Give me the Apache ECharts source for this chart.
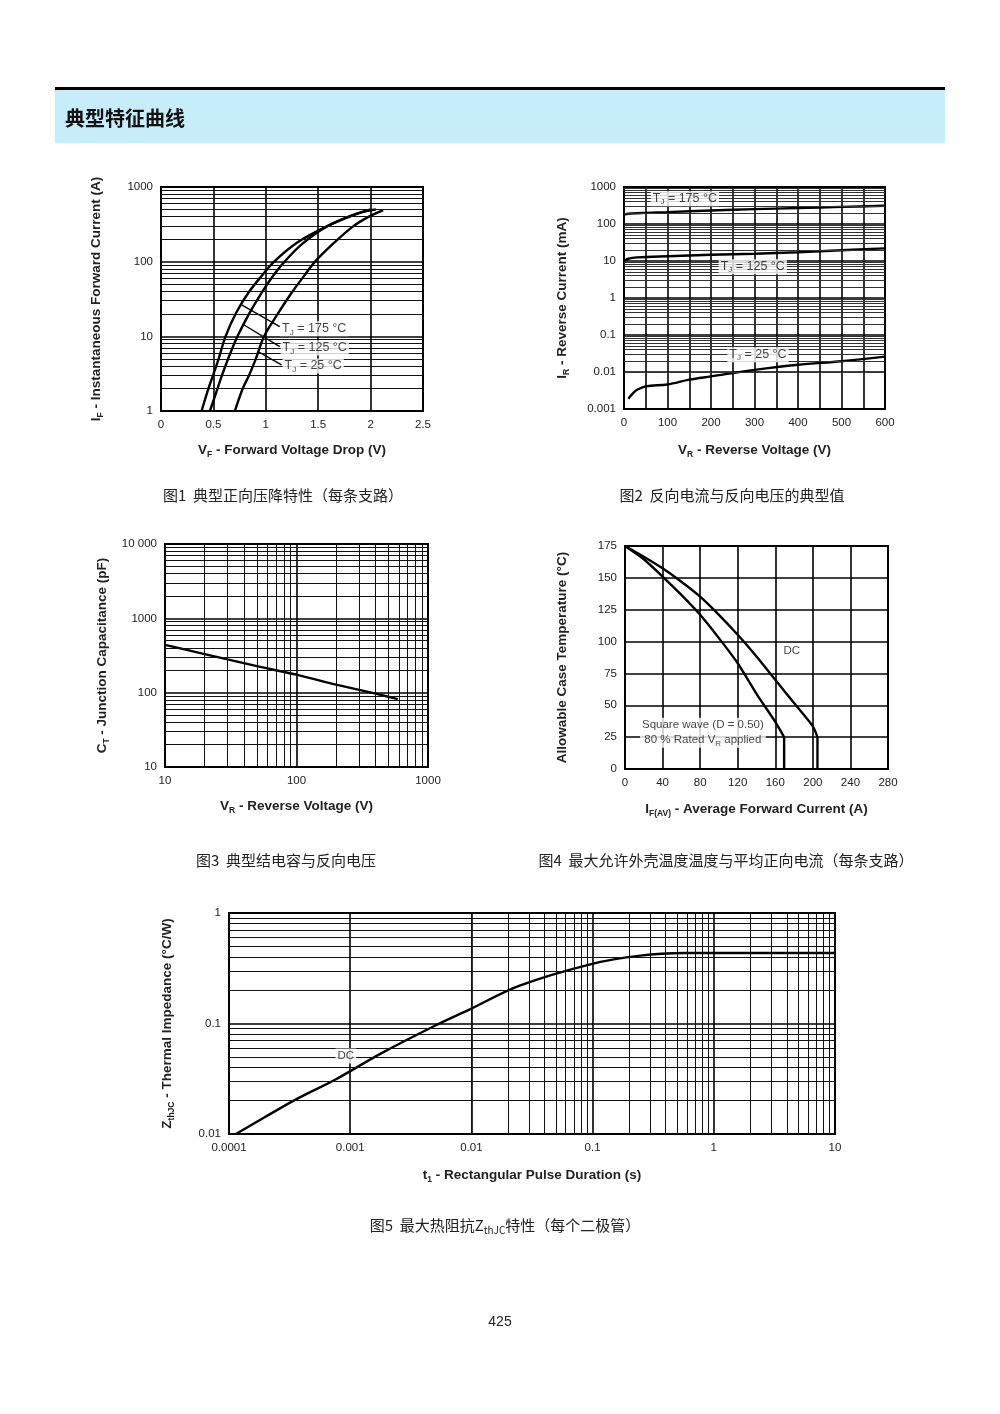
<!DOCTYPE html>
<html><head><meta charset="utf-8">
<script src="https://cdn.jsdelivr.net/npm/echarts@6/dist/echarts.min.js"></script>
<style>html,body{margin:0;padding:0;background:#fff}#c{width:1000px;height:1414px}</style>
</head><body><div id="c"></div>
<script>
const FONT = '"Liberation Sans", Arial, sans-serif';
const CJK = '"Noto Sans CJK SC", sans-serif';
const MINOR = [2, 3, 4, 5, 6, 7, 8, 9];

// ---- Fig 1: forward characteristics [VF (V), IF (A)]
const fig1_T175 = [[0.387,1],[0.45,1.95],[0.5,3.1],[0.55,5],[0.616,10],[0.72,21],[0.832,38],[0.95,62],[1.08,100],[1.3,180],[1.55,282],[1.8,400],[2.0,500]];
const fig1_T125 = [[0.467,1],[0.52,1.66],[0.58,2.95],[0.65,5.4],[0.73,10],[0.84,20],[0.958,38],[1.06,62],[1.165,95],[1.35,174],[1.58,295],[1.88,447],[2.05,500]];
const fig1_T25  = [[0.705,1],[0.78,2],[0.84,3],[0.9,4.8],[0.984,10],[1.1,18.6],[1.245,38],[1.36,63],[1.47,100],[1.65,178],[1.83,295],[1.98,398],[2.12,490]];
const fig1_leader175 = [[0.769,26.4],[1.133,13.5]];
const fig1_leader125 = [[0.793,14.2],[1.133,7.28]];
const fig1_leader25  = [[0.927,6.24],[1.15,4.14]];
const fig1_labels = [['T{s|J} = 175 °C',1.462,12.6],['T{s|J} = 125 °C',1.467,6.99],['T{s|J} = 25 °C',1.452,4.01]];

// ---- Fig 2: reverse current [VR (V), IR (mA)]
const fig2_T175 = [[0,180],[10,190],[50,200],[100,210],[200,232],[300,252],[400,270],[500,290],[600,312]];
const fig2_T125 = [[0,10],[10,11.5],[30,12.5],[100,13.5],[200,14.7],[300,15.7],[400,17.3],[500,19.5],[600,22]];
const fig2_T25  = [[10,0.0019],[20,0.0026],[30,0.0033],[50,0.0041],[100,0.0046],[150,0.0062],[200,0.0076],[300,0.0114],[400,0.0157],[500,0.0195],[600,0.026]];
const fig2_labels = [['T{s|J} = 175 °C',140,483],['T{s|J} = 125 °C',296,7.0],['T{s|J} = 25 °C',308,0.0294]];

// ---- Fig 3: junction capacitance [VR (V), CT (pF)]
const fig3_CT = [[10,440],[20,330],[50,227],[100,175],[200,128],[400,97],[590,82]];

// ---- Fig 4: case temperature [IF(AV) (A), TC (°C)]
const fig4_square = [[0,175],[20,164.6],[40,151],[60,136.6],[80,121],[100,102.7],[120,83],[140,59],[160,37],[169.4,25]];
const fig4_squareDrop = [[169.4,25],[169.4,0]];
const fig4_dc = [[0,175],[20,166.6],[40,157.5],[60,147],[80,135.3],[100,121],[120,105.3],[140,88.3],[160,70],[180,51.7],[200,33.5],[204.9,25]];
const fig4_dcDrop = [[204.9,25],[204.9,0]];
const fig4_labels = [['DC',177.6,92.7,false],['Square wave (D = 0.50)\n80 % Rated V{s|R} applied',82.9,28.4,true]];

// ---- Fig 5: thermal impedance [t1 (s), ZthJC (°C/W)]
const fig5_Z = [[0.000114,0.01],[0.0002,0.0143],[0.00036,0.0207],[0.00077,0.0315],[0.0018,0.0537],[0.005,0.0955],[0.0098,0.135],[0.025,0.22],[0.0975,0.345],[0.248,0.411],[0.58,0.434],[1,0.435],[10,0.435]];
const fig5_labels = [['DC',0.00092,0.0508]];

// ---- helpers
function fmt(v){ return String(Number(Number(v).toPrecision(6))); }
function logLines(min, max, key){
  const out = [];
  for (let e = Math.round(Math.log10(min)); e < Math.round(Math.log10(max)); e++)
    for (const m of MINOR) out.push({[key]: Number((m * Math.pow(10, e)).toPrecision(6))});
  return out;
}
function nameStyle(){
  return {fontFamily: FONT, fontSize: 13.5, fontWeight: 'bold', color: '#222', lineHeight: 18,
    rich: {s: {fontSize: 8.5, lineHeight: 8.5, fontWeight: 'bold', fontFamily: FONT, color: '#222', verticalAlign: 'bottom'}}};
}
function axisCommon(gi, o){
  return Object.assign({
    gridIndex: gi, nameLocation: 'middle', nameTextStyle: nameStyle(),
    axisLine: {show: false}, axisTick: {show: false},
    axisLabel: {color: '#222', fontFamily: FONT, fontSize: 11.5, margin: 8, formatter: fmt},
    splitLine: {show: true, lineStyle: {color: '#000', width: 1.6}}
  }, o);
}
function gridLines(i, data, color){
  return {type: 'line', xAxisIndex: i, yAxisIndex: i, data: [], silent: true, z: 1,
    markLine: {silent: true, symbol: ['none','none'], animation: false, label: {show: false},
      lineStyle: {color: color || '#111', width: 1, type: 'solid'}, data: data}};
}
function curve(i, data, smooth, width){
  return {type: 'line', xAxisIndex: i, yAxisIndex: i, data: data, symbol: 'none', silent: true,
    smooth: smooth === undefined ? 0.35 : smooth,
    lineStyle: {color: '#000', width: width || 2.4}, z: 3};
}
function labels(i, items, size){
  return {type: 'scatter', xAxisIndex: i, yAxisIndex: i, symbolSize: 0, silent: true, z: 10,
    data: items.map(it => ({value: [it[1], it[2]], label: {show: true, position: 'inside',
      formatter: it[0], color: '#111', fontFamily: FONT, fontSize: size || 11.5, lineHeight: 15,
      backgroundColor: it[3] === false ? 'transparent' : '#fff', padding: [0, 2], align: 'center',
      rich: {s: {fontSize: 8, lineHeight: 8, fontFamily: FONT, color: '#111', verticalAlign: 'bottom'}}}}))};
}

const grids = [
  {left: 161, top: 187, width: 262, height: 224},
  {left: 624, top: 187, width: 261, height: 222},
  {left: 165, top: 544, width: 263, height: 223},
  {left: 625, top: 546, width: 263, height: 223},
  {left: 229, top: 913, width: 606, height: 221}
].map(g => Object.assign({show: true, borderColor: '#000', borderWidth: 2, backgroundColor: 'transparent'}, g));

const xAxis = [
  axisCommon(0, {type: 'value', min: 0, max: 2.5, interval: 0.5, name: 'V{s|F} - Forward Voltage Drop (V)', nameGap: 30}),
  axisCommon(1, {type: 'value', min: 0, max: 600, interval: 100, name: 'V{s|R} - Reverse Voltage (V)', nameGap: 32,
    minorTick: {show: false, splitNumber: 2}, minorSplitLine: {show: true, lineStyle: {color: '#000', width: 1.6}}}),
  axisCommon(2, {type: 'log', logBase: 10, min: 10, max: 1000, name: 'V{s|R} - Reverse Voltage (V)', nameGap: 30}),
  axisCommon(3, {type: 'value', min: 0, max: 280, interval: 40, name: 'I{s|F(AV)} - Average Forward Current (A)', nameGap: 31}),
  axisCommon(4, {type: 'log', logBase: 10, min: 0.0001, max: 10, name: 't{s|1} - Rectangular Pulse Duration (s)', nameGap: 32})
];
const yAxis = [
  axisCommon(0, {type: 'log', logBase: 10, min: 1, max: 1000, name: 'I{s|F} - Instantaneous Forward Current (A)', nameGap: 56, nameRotate: 90}),
  axisCommon(1, {type: 'log', logBase: 10, min: 0.001, max: 1000, splitNumber: 6, name: 'I{s|R} - Reverse Current (mA)', nameGap: 53, nameRotate: 90}),
  axisCommon(2, {type: 'log', logBase: 10, min: 10, max: 10000, name: 'C{s|T} - Junction Capacitance (pF)', nameGap: 54, nameRotate: 90,
    axisLabel: {color: '#222', fontFamily: FONT, fontSize: 11.5, margin: 8, formatter: v => (v >= 9999 ? '10 000' : fmt(v))}}),
  axisCommon(3, {type: 'value', min: 0, max: 175, interval: 25, name: 'Allowable Case Temperature (°C)', nameGap: 54, nameRotate: 90}),
  axisCommon(4, {type: 'log', logBase: 10, min: 0.01, max: 1, splitNumber: 2, name: 'Z{s|thJC} - Thermal Impedance (°C/W)', nameGap: 53, nameRotate: 90})
];

const series = [
  gridLines(0, logLines(1, 1000, 'yAxis')),
  curve(0, fig1_T175), curve(0, fig1_T125), curve(0, fig1_T25),
  curve(0, fig1_leader175, false, 1.3), curve(0, fig1_leader125, false, 1.3), curve(0, fig1_leader25, false, 1.3),
  labels(0, fig1_labels, 12.5),

  gridLines(1, logLines(0.001, 1000, 'yAxis'), '#333'),
  curve(1, fig2_T175), curve(1, fig2_T125), curve(1, fig2_T25),
  labels(1, fig2_labels, 12.5),

  gridLines(2, logLines(10, 1000, 'xAxis').concat(logLines(10, 10000, 'yAxis'))),
  curve(2, fig3_CT, 0.2),

  curve(3, fig4_square, 0.25), curve(3, fig4_squareDrop, false),
  curve(3, fig4_dc, 0.25), curve(3, fig4_dcDrop, false),
  labels(3, fig4_labels, 11.5),

  gridLines(4, logLines(0.0001, 10, 'xAxis').concat(logLines(0.01, 1, 'yAxis'))),
  curve(4, fig5_Z),
  labels(4, fig5_labels, 11.5)
];

const capStyle = {fontFamily: CJK, fontSize: 15, lineHeight: 20, fill: '#222', textAlign: 'center', textVerticalAlign: 'middle'};
function cap(text, x, y, extra){ return {type: 'text', x: x, y: y, style: Object.assign({text: text}, capStyle, extra || {})}; }

const graphic = [
  {type: 'rect', shape: {x: 55, y: 87, width: 890, height: 3}, style: {fill: '#000'}},
  {type: 'rect', shape: {x: 55, y: 90, width: 890, height: 53}, style: {fill: '#c6edf9'}},
  {type: 'text', x: 65, y: 118, style: {text: '典型特征曲线', fontFamily: CJK, fontSize: 20, fontWeight: 'bold', fill: '#111', textVerticalAlign: 'middle'}},
  cap('图1  典型正向压降特性（每条支路）', 283, 495),
  cap('图2  反向电流与反向电压的典型值', 732, 495),
  cap('图3  典型结电容与反向电压', 286, 860),
  cap('图4  最大允许外壳温度温度与平均正向电流（每条支路）', 726, 860),
  cap('图5  最大热阻抗Z{s|thJC}特性（每个二极管）', 505, 1225,
      {rich: {s: {fontFamily: CJK, fontSize: 10, lineHeight: 10, fill: '#222', verticalAlign: 'bottom'}}}),
  {type: 'text', x: 500, y: 1322, style: {text: '425', fontFamily: FONT, fontSize: 14, fill: '#222', textAlign: 'center', textVerticalAlign: 'middle'}}
];

const chart = echarts.init(document.getElementById('c'), null, {renderer: 'canvas'});
chart.setOption({animation: false, backgroundColor: '#fff', grid: grids, xAxis: xAxis, yAxis: yAxis, series: series, graphic: graphic});
</script>
</body></html>
